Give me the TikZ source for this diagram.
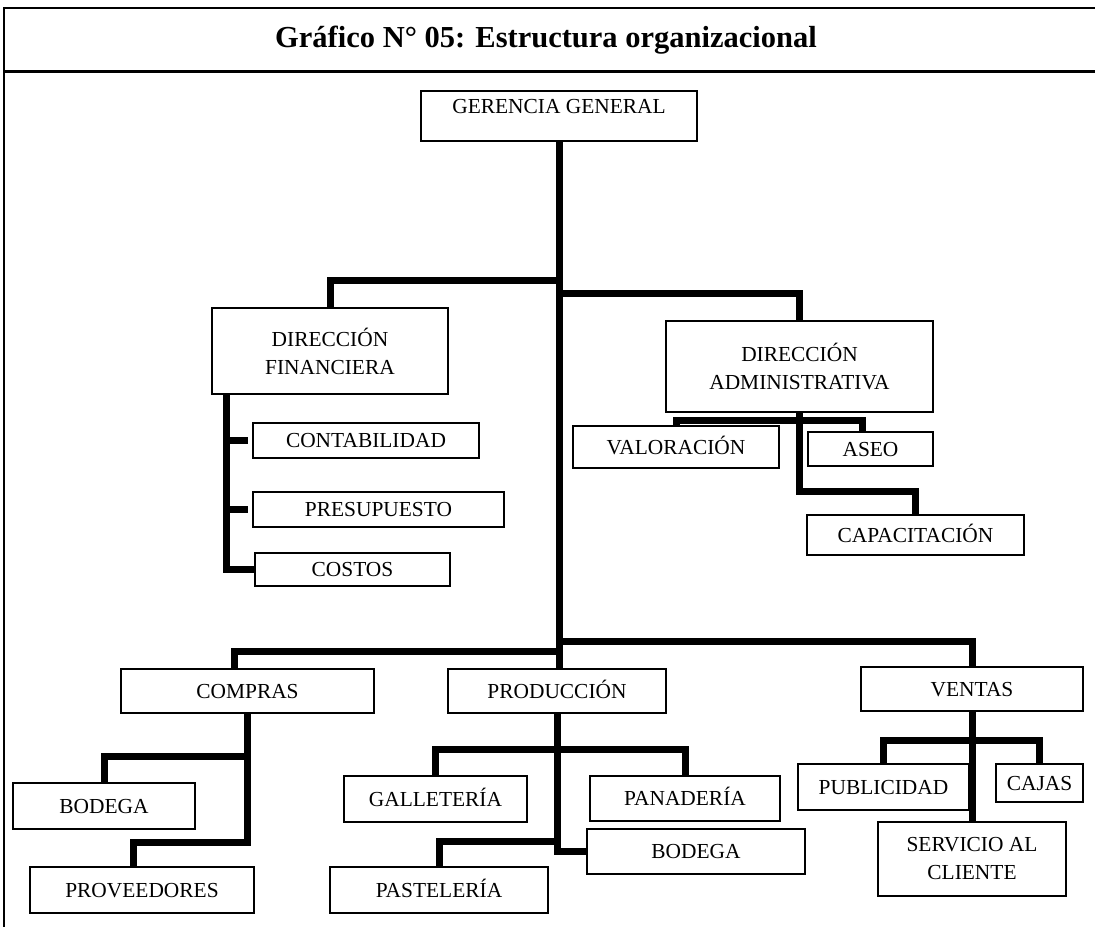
\documentclass[tikz,border=0pt]{standalone}
\usepackage{fontspec}
\setmainfont{Liberation Serif}
\usetikzlibrary{calc}

\begin{document}
\begin{tikzpicture}[x=1pt,y=-1pt,
  unitbase/.style={draw,line width=2pt,inner sep=0pt,align=center,font=\fontsize{21.4}{28}\selectfont},
  unit/.style={unitbase,text height=14.2pt,text depth=0pt},
  link/.style={line width=7pt}]
\useasboundingbox (0,0) rectangle (1095,927);
\draw[line width=2pt] (1095,8) -- (4,8) -- (4,927);
\draw[line width=3pt] (4,71) -- (1095,71);
\node[font=\fontsize{30.5}{36}\selectfont\bfseries] (title) at (546,40) {Gráfico N° 05: Estructura organizacional};
\node[unit,minimum width=276pt,text height=22pt,text depth=28pt] (gg) at (559,116) {GERENCIA GENERAL};
\node[unitbase,minimum width=236pt,minimum height=86pt] (df) at (330,351) {DIRECCIÓN\\FINANCIERA};
\node[unitbase,minimum width=267pt,minimum height=91pt] (da) at (799.5,366.5) {DIRECCIÓN\\ADMINISTRATIVA};
\node[unit,minimum width=226pt,minimum height=35pt] (cont) at (366,440.5) {CONTABILIDAD};
\node[unit,minimum width=251pt,minimum height=35pt] (pres) at (378.5,509.5) {PRESUPUESTO};
\node[unit,minimum width=195pt,minimum height=33pt] (cost) at (352.5,569.5) {COSTOS};
\node[unit,minimum width=206pt,minimum height=42pt] (valo) at (676,447) {VALORACIÓN};
\node[unit,minimum width=125pt,minimum height=34pt] (aseo) at (870.5,449) {ASEO};
\node[unit,minimum width=217pt,minimum height=40pt] (capa) at (915.5,535) {CAPACITACIÓN};
\node[unit,minimum width=253pt,minimum height=44pt] (comp) at (247.5,691) {COMPRAS};
\node[unit,minimum width=218pt,minimum height=44pt] (prod) at (557,691) {PRODUCCIÓN};
\node[unit,minimum width=222pt,minimum height=44pt] (vent) at (972,689) {VENTAS};
\node[unit,minimum width=182pt,minimum height=46pt] (bod1) at (104,806) {BODEGA};
\node[unit,minimum width=224pt,minimum height=46pt] (prov) at (142,890) {PROVEEDORES};
\node[unit,minimum width=183pt,minimum height=46pt] (gall) at (435.5,799) {GALLETERÍA};
\node[unit,minimum width=218pt,minimum height=46pt] (past) at (439,890) {PASTELERÍA};
\node[unit,minimum width=190pt,minimum height=45pt] (pan) at (685,798.5) {PANADERÍA};
\node[unit,minimum width=218pt,minimum height=45pt] (bod2) at (696,851.5) {BODEGA};
\node[unit,minimum width=171pt,minimum height=46pt] (publ) at (883.5,787) {PUBLICIDAD};
\node[unit,minimum width=87pt,minimum height=38pt] (caja) at (1039.5,783) {CAJAS};
\node[unitbase,minimum width=188pt,minimum height=74pt] (serv) at (972,859) {SERVICIO AL\\CLIENTE};
\draw[link] (gg.south) -- (gg.south |- prod.north);
\draw[link] (df.north) |- (gg.south |- 0,280);
\draw[link] (da.north) |- (gg.south |- 0,293);
\coordinate (dfl) at ($(df.south west)+(15,0)$);
\draw[link] (dfl) |- (cost.west);
\draw[link] (dfl |- cont.west) -- ($(cont.west)+(-4,0)$);
\draw[link] (dfl |- pres.west) -- ($(pres.west)+(-4,0)$);
\draw[link] (valo.north) |- ($(da.south)+(0,7)$) -| ($(aseo.north)+(-8,0)$);
\draw[link] (da.south) -- ++(0,78) -| (capa.north);
\draw[link] ($(comp.north)+(-13,0)$) |- (gg.south |- 0,651);
\draw[link] (vent.north) |- (gg.south |- 0,641);
\draw[link] (comp.south) -- ++(0,128) -| ($(prov.north)+(-9,0)$);
\draw[link] (comp.south |- 0,756) -| (bod1.north);
\draw[link] (prod.south) |- (bod2.west);
\draw[link] (gall.north) |- ($(prod.south)+(0,35)$) -| (pan.north);
\draw[link] (past.north) |- ($(prod.south)+(0,127)$);
\draw[link] (vent.south) -- (serv.north);
\draw[link] (publ.north) |- ($(vent.south)+(0,28)$) -| (caja.north);
\end{tikzpicture}
\end{document}
